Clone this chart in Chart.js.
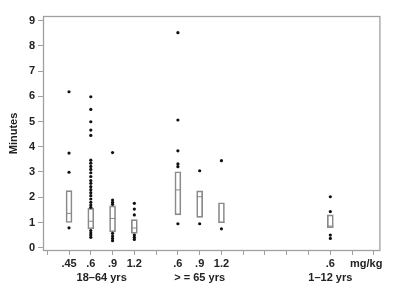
<!DOCTYPE html>
<html><head><meta charset="utf-8">
<script src="https://cdn.jsdelivr.net/npm/chart.js@4"></script>
<style>html,body{margin:0;padding:0;background:#fff}</style>
</head><body>
<canvas id="c" width="400" height="291"></canvas>
<script>
// Category slots on the x axis (index units) and their labels
const slots = [1, 2, 3, 4, 6, 7, 8, 13];
const doseLabels = ['.45', '.6', '.9', '1.2', '.6', '.9', '1.2', '.6'];
const unitSlot = 15;
const unitLabel = 'mg/kg';
const groupNames = ['18–64 yrs', '> = 65 yrs', '1–12 yrs'];
const groupCenters = [2.5, 7, 13];
const yTicks = [0, 1, 2, 3, 4, 5, 6, 7, 8, 9];

// Box statistics (minutes)
const q1 = [1.00, 0.75, 0.63, 0.57, 1.30, 1.20, 0.99, 0.79];
const median = [1.36, 1.05, 1.16, 0.78, 2.29, 2.02, 1.00, 0.86];
const q3 = [2.26, 1.56, 1.66, 1.11, 3.01, 2.25, 1.78, 1.30];

// Outliers per category
const outliers = [
  [6.18, 3.75, 2.99, 0.79],
  [5.98, 5.48, 4.99, 4.66, 4.45, 3.47, 3.35, 3.22, 3.10, 2.97, 2.82, 2.66, 2.55, 2.42, 2.30, 2.18, 2.06, 1.93, 1.80, 1.69, 1.60, 0.68, 0.58, 0.50, 0.41],
  [3.77, 1.89, 1.80, 1.72, 0.57, 0.46, 0.37, 0.28],
  [1.76, 1.53, 1.30, 0.50, 0.41, 0.33],
  [8.52, 5.06, 3.84, 3.32, 3.21, 0.95],
  [3.05, 0.95],
  [3.45, 0.75],
  [2.02, 1.43, 0.50, 0.37]
];

const boxData = slots.map((s, i) => ({x: s, y: [q1[i], q3[i]]}));
const medData = slots.map((s, i) => ({x: s, y: median[i]}));
const outData = [];
slots.forEach((s, i) => outliers[i].forEach(v => outData.push({x: s, y: v})));

const tickMap = {};
slots.forEach((s, i) => tickMap[s] = doseLabels[i]);
tickMap[unitSlot] = unitLabel + '\u00a0\u00a0\u00a0\u00a0\u00a0';
const groupMap = {};
groupCenters.forEach((c, i) => groupMap[c] = groupNames[i]);

const FONT = {family: 'Liberation Sans, Arial, sans-serif', size: 11, weight: 'bold'};
const GRAY = '#a0a0a0';

const framePlugin = {
  id: 'frame',
  afterDraw(chart) {
    const a = chart.chartArea, ctx = chart.ctx;
    ctx.save();
    ctx.strokeStyle = GRAY;
    ctx.lineWidth = 1.3;
    ctx.strokeRect(a.left + 0.5, a.top + 0.5, a.right - a.left - 1, a.bottom - a.top - 1);
    ctx.restore();
  }
};

new Chart(document.getElementById('c'), {
  type: 'scatter',
  data: {
    datasets: [
      {type: 'bar', data: boxData, backgroundColor: 'rgba(255,255,255,0)', borderColor: '#8a8a8a',
       borderWidth: 1, barThickness: 6, borderSkipped: false, order: 3},
      {type: 'scatter', data: medData, pointStyle: 'line', pointRadius: 3, borderColor: '#8a8a8a',
       borderWidth: 1, order: 2},
      {type: 'scatter', data: outData, pointStyle: 'circle', pointRadius: 1.6, backgroundColor: '#111',
       borderColor: '#111', borderWidth: 0, order: 1}
    ]
  },
  options: {
    responsive: false,
    animation: false,
    devicePixelRatio: 1,
    layout: {padding: {top: 16, right: 15, left: 0, bottom: 0}},
    plugins: {legend: {display: false}, tooltip: {enabled: false}},
    scales: {
      x: {
        type: 'linear', min: -0.195, max: 15.3, offset: false, weight: 0,
        grid: {display: true, drawOnChartArea: false, drawTicks: true, tickLength: 4, color: GRAY, offset: false},
        border: {display: false},
        afterBuildTicks: ax => { ax.ticks = Array.from({length: 16}, (_, i) => ({value: i})); },
        ticks: {autoSkip: false, maxRotation: 0, padding: 2, color: '#222', font: FONT,
                callback: v => tickMap[v] || ''},
        afterFit: ax => { ax.height = 20; }
      },
      xg: {
        type: 'linear', position: 'bottom', min: -0.195, max: 15.3, offset: false, weight: 1,
        grid: {display: false, drawTicks: false},
        border: {display: false},
        afterBuildTicks: ax => { ax.ticks = groupCenters.map(v => ({value: v})); },
        ticks: {autoSkip: false, maxRotation: 0, padding: 0, color: '#222', font: FONT,
                callback: v => groupMap[v] || ''},
        afterFit: ax => { ax.height = 20; }
      },
      y: {
        type: 'linear', min: -0.13, max: 9.18,
        grid: {display: true, drawOnChartArea: false, drawTicks: true, tickLength: 5, color: GRAY},
        border: {display: false},
        afterBuildTicks: ax => { ax.ticks = yTicks.map(v => ({value: v})); },
        ticks: {padding: 3, color: '#222', font: FONT},
        title: {display: true, text: 'Minutes', color: '#222', font: FONT, padding: {top: 7, bottom: 0}},
        afterFit: ax => { ax.width = 43; }
      }
    }
  },
  plugins: [framePlugin]
});
</script>
</body></html>
